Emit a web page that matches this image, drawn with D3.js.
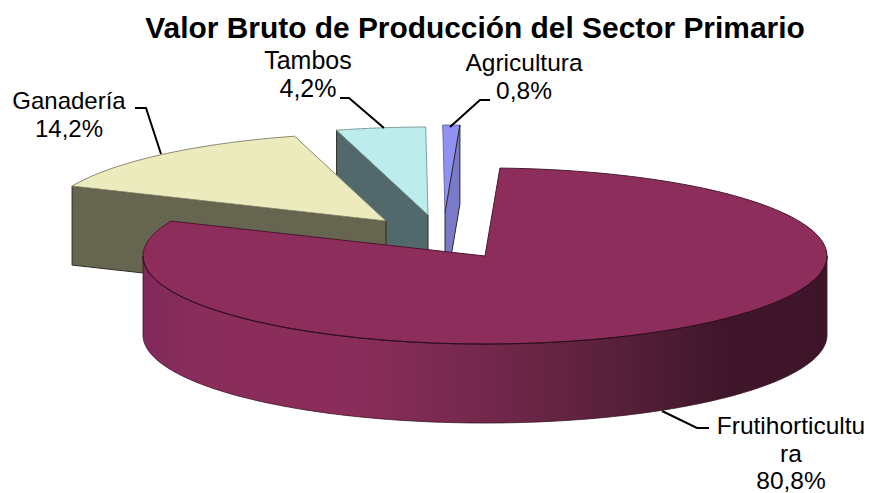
<!DOCTYPE html>
<html><head><meta charset="utf-8">
<style>html,body{margin:0;padding:0;background:#fff}svg{display:block}text{font-family:"Liberation Sans",Arial,sans-serif;fill:#000}</style>
<script src="https://cdn.jsdelivr.net/npm/d3@7"></script></head><body>
<script>
const chartTitle = "Valor Bruto de Producción del Sector Primario";
const categories = ["Frutihorticultura","Ganadería","Tambos","Agricultura"];
const values = [80.8,14.2,4.2,0.8];
const topColors = ["#8c2d5c","#ebebbd","#bcecec","#9191f2"];
const wallColors = ["#8c2d5c","#666650","#52696b","#7a7acb"];
const labelLines = [["Frutihorticultu","ra","80,8%"],["Ganadería","14,2%"],["Tambos","4,2%"],["Agricultura","0,8%"]];

const W=869,H=493;
const rx=342, ry=88, depth=79;
const apex=[[485,256],[386,221],[428,215],[445,213]];
const labelPos=[[791,434],[69,109],[308,69],[524,71]];
const leaders=[[[662,411],[697,428],[709,428]],[[161,154],[146,108],[135,108]],[[384,128],[349,98],[340,98]],[[450,127],[480,100],[490,100]]];
const lineH=[27.5,28,28,28];
const labelSize=[24.5,24,25,24.5];

const svg=d3.select("body").append("svg").attr("width",W).attr("height",H).attr("viewBox",[0,0,W,H]);
const defs=svg.append("defs");
const grad=defs.append("linearGradient").attr("id","wall").attr("gradientUnits","userSpaceOnUse").attr("x1",142).attr("x2",827).attr("y1",0).attr("y2",0);
[[0,"#80295a"],[0.1,"#8a2d5b"],[0.3,"#8a2d5b"],[0.5,"#74284c"],[0.7,"#562039"],[0.85,"#40162a"],[1,"#3e1528"]]
  .forEach(([o,c])=>grad.append("stop").attr("offset",o).attr("stop-color",c));

const startAngle=2.5*Math.PI/180;
const pie=d3.pie().value(d=>d).sort(null).startAngle(startAngle).endAngle(startAngle+2*Math.PI);
const arcs=pie(values);
const line=d3.line();
const proj=(c,a)=>[c[0]+rx*Math.sin(a),c[1]-ry*Math.cos(a)];

function sector(i){
  const a=arcs[i],c=apex[i];
  const n=Math.max(2,Math.ceil((a.endAngle-a.startAngle)*40));
  return [c,...d3.range(n+1).map(k=>proj(c,a.startAngle+(a.endAngle-a.startAngle)*k/n))];
}
function drawWall(i,wallPts){
  svg.append("path").attr("d",line(wallPts)+"Z").attr("fill",wallColors[i]).attr("stroke","#2a2a22").attr("stroke-width",1);
}
function drawTop(i,stroke){
  svg.append("path").attr("d",line(sector(i))+"Z").attr("fill",topColors[i]).attr("stroke",stroke).attr("stroke-width",1);
}
const down=p=>[p[0],p[1]+depth];

// Tambos: wall from the rim at its start edge to the apex
{ const c=apex[2],p=proj(c,arcs[2].startAngle);
  drawWall(2,[p,c,down(c),down(p)]); drawTop(2,"#7fa0a0"); }
// Agricultura: wall from the rim at its end edge to the apex
{ const c=apex[3],p=proj(c,arcs[3].endAngle);
  drawTop(3,"#6a6ab0"); drawWall(3,[c,p,down(p),down(c)]); }
// Ganadería
{ const c=apex[1],p=proj(c,arcs[1].startAngle);
  drawWall(1,[p,c,down(c),down(p)]); drawTop(1,"#8a8a70"); }
// Frutihorticultura outer wall + top
{ const c=apex[0];
  const angs=d3.range(0,181).map(k=>Math.PI/2+k*Math.PI/180);
  const rim=angs.map(a=>proj(c,a));
  svg.append("path").attr("d",line([...rim,...rim.slice().reverse().map(down)])+"Z").attr("fill","url(#wall)").attr("stroke","#3a1526").attr("stroke-width",0.8);
  drawTop(0,"#4a1830");
  svg.append("path").attr("d",line(rim)).attr("fill","none").attr("stroke","#2d0f1d").attr("stroke-width",1);
}
// Leader lines
leaders.forEach(l=>svg.append("path").attr("d",line(l)).attr("fill","none").attr("stroke","#000").attr("stroke-width",2));
// Labels
svg.append("text").attr("x",475).attr("y",38).attr("text-anchor","middle").attr("font-size",29.9).attr("font-weight","bold").text(chartTitle);
labelLines.forEach((ls,i)=>{
  ls.forEach((t,j)=>svg.append("text").attr("x",labelPos[i][0]).attr("y",labelPos[i][1]+j*lineH[i]).attr("text-anchor","middle").attr("font-size",labelSize[i]).text(t));
});
</script></body></html>
